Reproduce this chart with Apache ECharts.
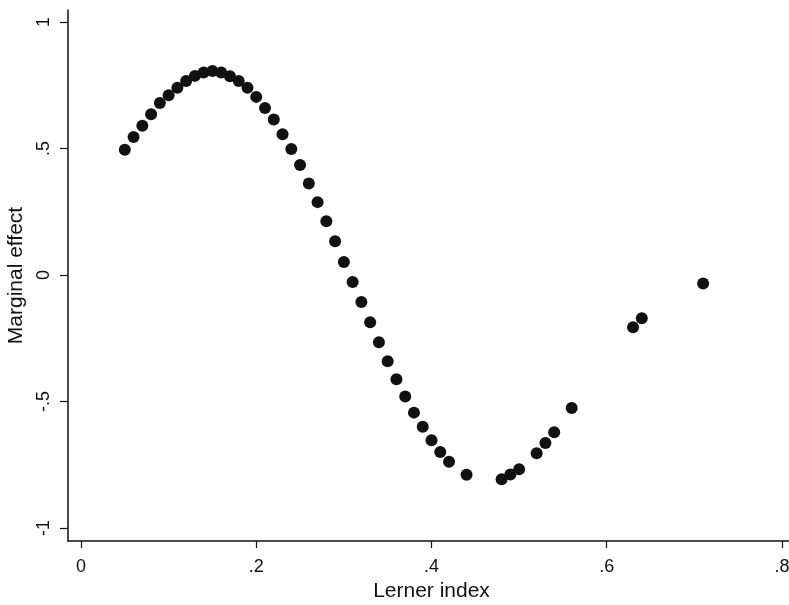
<!DOCTYPE html>
<html>
<head>
<meta charset="utf-8">
<script src="https://cdn.jsdelivr.net/npm/echarts@6/dist/echarts.min.js"></script>
<style>
  html, body { margin: 0; padding: 0; background: #fff; }
  #chart { width: 789px; height: 605px; }
</style>
</head>
<body>
<div id="chart"></div>
<script>
// Lerner index values (x) and marginal effect (y)
var lerner = [0.05, 0.06, 0.07, 0.08, 0.09, 0.10, 0.11, 0.12, 0.13, 0.14,
  0.15, 0.16, 0.17, 0.18, 0.19, 0.20, 0.21, 0.22, 0.23, 0.24,
  0.25, 0.26, 0.27, 0.28, 0.29, 0.30, 0.31, 0.32, 0.33, 0.34,
  0.35, 0.36, 0.37, 0.38, 0.39, 0.40, 0.41, 0.42, 0.44, 0.48,
  0.49, 0.50, 0.52, 0.53, 0.54, 0.56, 0.63, 0.64, 0.71];
var effect = [0.495, 0.545, 0.59, 0.635, 0.68, 0.71, 0.74, 0.767, 0.787, 0.80,
  0.806, 0.80, 0.786, 0.767, 0.74, 0.704, 0.66, 0.615, 0.556, 0.498,
  0.435, 0.362, 0.288, 0.212, 0.133, 0.051, -0.028, -0.107, -0.187, -0.266,
  -0.341, -0.412, -0.48, -0.544, -0.60, -0.653, -0.70, -0.738, -0.79, -0.807,
  -0.789, -0.768, -0.705, -0.664, -0.622, -0.526, -0.207, -0.171, -0.034];

var xTicks = [0, 0.2, 0.4, 0.6, 0.8];
var yTicks = [-1, -0.5, 0, 0.5, 1];

function stataLabel(v) {
  if (v === 0) return "0";
  return String(v).replace("0.", ".");
}

var points = lerner.map(function (x, i) { return [x, effect[i]]; });

var chart = echarts.init(document.getElementById("chart"));
chart.setOption({
  animation: false,
  backgroundColor: "#fff",
  grid: { left: 68, right: -6, top: 10, bottom: 64, containLabel: false, outerBoundsMode: "none" },
  xAxis: {
    type: "value",
    min: -0.01484,
    max: 0.81484,
    name: "Lerner index",
    nameLocation: "middle",
    nameGap: 39,
    nameTextStyle: { fontFamily: "Liberation Sans", fontSize: 21, color: "#111" },
    splitLine: { show: false },
    axisLine: { show: true, onZero: false, lineStyle: { color: "#111", width: 1.5 } },
    axisTick: { show: true, customValues: xTicks, length: 7, lineStyle: { color: "#111", width: 1.2 } },
    axisLabel: {
      customValues: xTicks,
      formatter: stataLabel,
      margin: 17,
      fontFamily: "Liberation Sans",
      fontSize: 18,
      color: "#111"
    }
  },
  yAxis: {
    type: "value",
    min: -1.0514,
    max: 1.0474,
    name: "Marginal effect",
    nameLocation: "middle",
    nameGap: 37,
    nameTextStyle: { fontFamily: "Liberation Sans", fontSize: 21, color: "#111" },
    splitLine: { show: false },
    axisLine: { show: true, onZero: false, lineStyle: { color: "#111", width: 1.5 } },
    axisTick: { show: true, customValues: yTicks, length: 8, lineStyle: { color: "#111", width: 1.2 } },
    axisLabel: {
      customValues: yTicks,
      formatter: stataLabel,
      rotate: 90,
      margin: 15,
      fontFamily: "Liberation Sans",
      fontSize: 18,
      color: "#111"
    }
  },
  series: [{
    type: "scatter",
    data: points,
    symbol: "circle",
    symbolSize: 12,
    itemStyle: { color: "#111", opacity: 1 }
  }]
});
</script>
</body>
</html>
